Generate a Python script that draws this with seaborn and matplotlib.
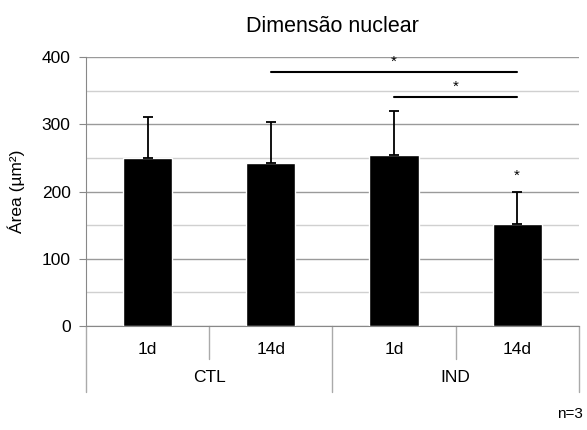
import seaborn as sns
import matplotlib.pyplot as plt
import matplotlib.transforms as mtransforms

# data
groups = ['CTL', 'CTL', 'IND', 'IND']
times = ['1d', '14d', '1d', '14d']
means = [250, 243, 255, 152]
sd = [61, 60, 64, 48]

sns.set_style('white')
plt.rcParams['font.family'] = ['Liberation Sans', 'DejaVu Sans']
plt.rcParams['text.color'] = 'black'
plt.rcParams['axes.labelcolor'] = 'black'
plt.rcParams['ytick.labelcolor'] = 'black'

fig = plt.figure(figsize=(5.87, 4.30), dpi=100)
ax = fig.add_axes([0.1465, 0.2419, 0.8395, 0.6255])

cats = [g + ' ' + t for g, t in zip(groups, times)]
sns.barplot(x=cats, y=means, order=cats, color='black', width=0.4,
            saturation=1, ax=ax, zorder=3)
ax.errorbar(range(len(cats)), means, yerr=[[0] * len(sd), sd], fmt='none',
            ecolor='black', elinewidth=1.3, capsize=3.5, capthick=1.3, zorder=4)

ax.set_xlim(-0.5, 3.5)
ax.set_ylim(0, 400)
ax.set_yticks(range(0, 401, 100))
ax.set_yticks(range(50, 400, 100), minor=True)
ax.grid(axis='y', which='major', color='#9a9a9a', lw=1, zorder=0)
ax.grid(axis='y', which='minor', color='#d0d0d0', lw=1, zorder=0)
ax.tick_params(axis='y', which='major', left=True, length=5, color='#888888',
               labelsize=12.5, pad=6, labelcolor='black')
ax.tick_params(axis='y', which='minor', left=False)
ax.set_xticks([])
for s in ['top', 'right']:
    ax.spines[s].set_visible(False)
ax.spines['left'].set_color('#888888')
ax.spines['bottom'].set_color('#888888')
ax.set_ylabel('Área (µm²)', fontsize=12.5, labelpad=12)
ax.set_title('Dimensão nuclear', fontsize=15.5, pad=18, color='black')

# two-level category axis
trans = mtransforms.blended_transform_factory(ax.transData, ax.transAxes)
for xs in [-0.5, 1.5, 3.5]:
    ax.plot([xs, xs], [0, -0.245], transform=trans, color='#aaaaaa', lw=1, clip_on=False)
for xs in [0.5, 2.5]:
    ax.plot([xs, xs], [0, -0.123], transform=trans, color='#aaaaaa', lw=1, clip_on=False)
for i, t in enumerate(times):
    ax.text(i, -0.086, t, transform=trans, ha='center', va='center', fontsize=12.5)
for i, g in enumerate(['CTL', 'IND']):
    ax.text(2 * i + 0.5, -0.193, g, transform=trans, ha='center', va='center', fontsize=12.5)

# significance marks
ax.plot([1, 3], [378, 378], color='black', lw=1.5, zorder=5)
ax.text(2, 393, '*', ha='center', va='center', fontsize=11, zorder=5)
ax.plot([2, 3], [341, 341], color='black', lw=1.5, zorder=5)
ax.text(2.5, 356, '*', ha='center', va='center', fontsize=11, zorder=5)
ax.text(3, 223, '*', ha='center', va='center', fontsize=11, zorder=5)

fig.text(0.993, 0.037, 'n=3', ha='right', va='center', fontsize=11)

fig.savefig('out.png', dpi=100)
